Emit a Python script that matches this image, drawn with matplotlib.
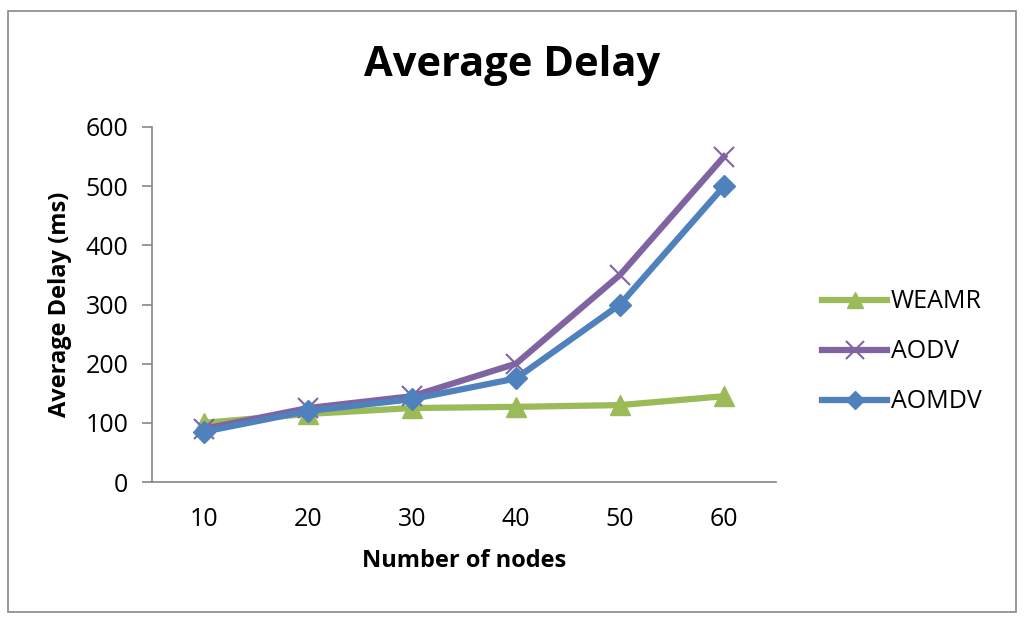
import numpy as np
import matplotlib.pyplot as plt
from matplotlib.patches import Rectangle

plt.rcParams['font.family'] = ['Open Sans', 'DejaVu Sans']

nodes = [10, 20, 30, 40, 50, 60]
weamr = [100, 115, 125, 127, 130, 145]
aodv = [90, 125, 145, 200, 350, 550]
aomdv = [85, 120, 140, 175, 300, 500]

fig = plt.figure(figsize=(10.24, 6.23), dpi=100)
ax = fig.add_axes([152 / 1024, 1 - 482 / 623, (776 - 152) / 1024, (482 - 127) / 623])

# outer chart border
fig.patches.append(Rectangle((8 / 1024, 11 / 623), 1008 / 1024, 601 / 623,
                             transform=fig.transFigure, fill=False,
                             edgecolor='#888888', linewidth=1.2))

x = np.arange(len(nodes))
ax.plot(x, weamr, color='#9BBB59', linewidth=4.5, marker='^', markersize=14, label='WEAMR')
ax.plot(x, aodv, color='#8064A2', linewidth=4.5, marker='x', markersize=15,
        markeredgewidth=1.5, label='AODV')
ax.plot(x, aomdv, color='#4F81BD', linewidth=4.5, marker='D', markersize=11, label='AOMDV')

ax.set_xlim(-0.5, len(nodes) - 0.5)
ax.set_ylim(0, 600)
ax.set_yticks(range(0, 601, 100))
ax.set_xticks(x)
ax.set_xticklabels([str(n) for n in nodes])

for side in ['top', 'right']:
    ax.spines[side].set_visible(False)
for side in ['left', 'bottom']:
    ax.spines[side].set_color('#868686')
    ax.spines[side].set_linewidth(1.2)

ax.tick_params(axis='y', direction='out', length=7, width=1.2, color='#868686',
               labelsize=18, pad=10)
ax.tick_params(axis='x', length=0, labelsize=18, pad=18)

ax.set_xlabel('Number of nodes', fontsize=17, fontweight='bold', labelpad=12)
ax.set_ylabel('Average Delay (ms)', fontsize=17, fontweight='bold', labelpad=10)
fig.text(0.5, 1 - 65 / 623, 'Average Delay', fontsize=30, fontweight='bold',
         ha='center', va='center')

leg = ax.legend(loc='center left', bbox_to_anchor=(822 / 1024, 1 - 352 / 623),
                bbox_transform=fig.transFigure, frameon=False, fontsize=18,
                handlelength=2.6, labelspacing=1.0, handletextpad=0.15,
                borderpad=0, borderaxespad=0, markerscale=0.85)

fig.savefig('out.png', dpi=100)
